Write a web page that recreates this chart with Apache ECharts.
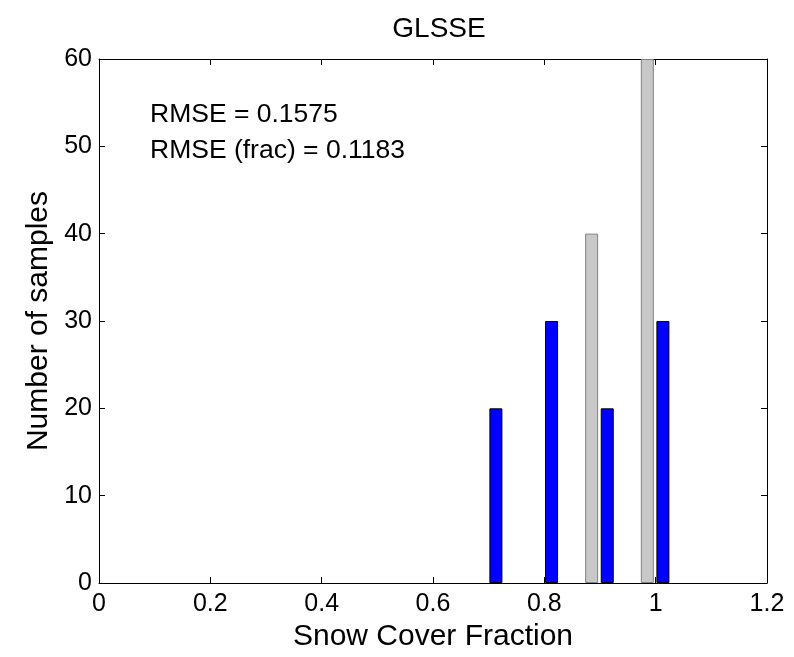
<!DOCTYPE html>
<html>
<head>
<meta charset="utf-8">
<script src="https://cdn.jsdelivr.net/npm/echarts@6/dist/echarts.min.js"></script>
<style>html,body{margin:0;padding:0;background:#fff}#c{width:794px;height:657px}</style>
</head>
<body>
<div id="c"></div>
<script>
// Data
const titleText = 'GLSSE';
const xName = 'Snow Cover Fraction';
const yName = 'Number of samples';
const annotation = ['RMSE = 0.1575', 'RMSE (frac) = 0.1183'];
const blueX = [0.713, 0.813, 0.913, 1.013];
const blueY = [20, 30, 20, 30];
const grayX = [0.885, 0.985];
const grayY = [40, 60];
const xMin = 0, xMax = 1.2, xStep = 0.2;
const yMin = 0, yMax = 60, yStep = 10;

const font = "'Liberation Sans', Arial, Helvetica, sans-serif";
const chart = echarts.init(document.getElementById('c'), null, {renderer: 'canvas'});
const axisCommon = {
  axisLine: {show: true, onZero: false, lineStyle: {color: '#000', width: 1}},
  axisTick: {show: true, inside: true, length: 6, lineStyle: {color: '#000'}},
  splitLine: {show: false}
};
chart.setOption({
  animation: false,
  backgroundColor: '#fff',
  title: [
    {text: titleText, left: 434, top: 10, textAlign: 'center',
     textStyle: {fontFamily: font, fontSize: 28, fontWeight: 'normal', color: '#000'}},
    {text: annotation.join('\n'), left: 145, top: 92,
     textStyle: {fontFamily: font, fontSize: 26.5, fontWeight: 'normal', color: '#000', lineHeight: 36}}
  ],
  grid: {left: 99, right: 27, top: 59, bottom: 67, containLabel: false},
  xAxis: [
    Object.assign({}, axisCommon, {
      type: 'value', position: 'bottom', min: xMin, max: xMax, interval: xStep,
      name: xName, nameLocation: 'middle', nameGap: 39,
      nameTextStyle: {fontFamily: font, fontSize: 30, color: '#000'},
      axisLabel: {fontFamily: font, fontSize: 25, color: '#000', margin: 9,
        formatter: v => String(Math.round(v * 10) / 10)}
    }),
    Object.assign({}, axisCommon, {
      type: 'value', position: 'top', min: xMin, max: xMax, interval: xStep,
      axisLabel: {show: false}
    })
  ],
  yAxis: [
    Object.assign({}, axisCommon, {
      type: 'value', position: 'left', min: yMin, max: yMax, interval: yStep,
      name: yName, nameLocation: 'middle', nameGap: 32,
      nameTextStyle: {fontFamily: font, fontSize: 30, color: '#000'},
      axisLabel: {fontFamily: font, fontSize: 25, color: '#000', margin: 7}
    }),
    Object.assign({}, axisCommon, {
      type: 'value', position: 'right', min: yMin, max: yMax, interval: yStep,
      axisLabel: {show: false}
    })
  ],
  series: [
    {type: 'bar', xAxisIndex: 0, yAxisIndex: 0, barWidth: 13, barGap: '-100%',
     itemStyle: {color: '#c8c8c8', borderColor: '#808080', borderWidth: 1},
     data: grayX.map((x, i) => [x, grayY[i]])},
    {type: 'bar', xAxisIndex: 0, yAxisIndex: 0, barWidth: 13, barGap: '-100%',
     itemStyle: {color: '#0000ff', borderColor: '#000', borderWidth: 1},
     data: blueX.map((x, i) => [x, blueY[i]])}
  ]
});
</script>
</body>
</html>
